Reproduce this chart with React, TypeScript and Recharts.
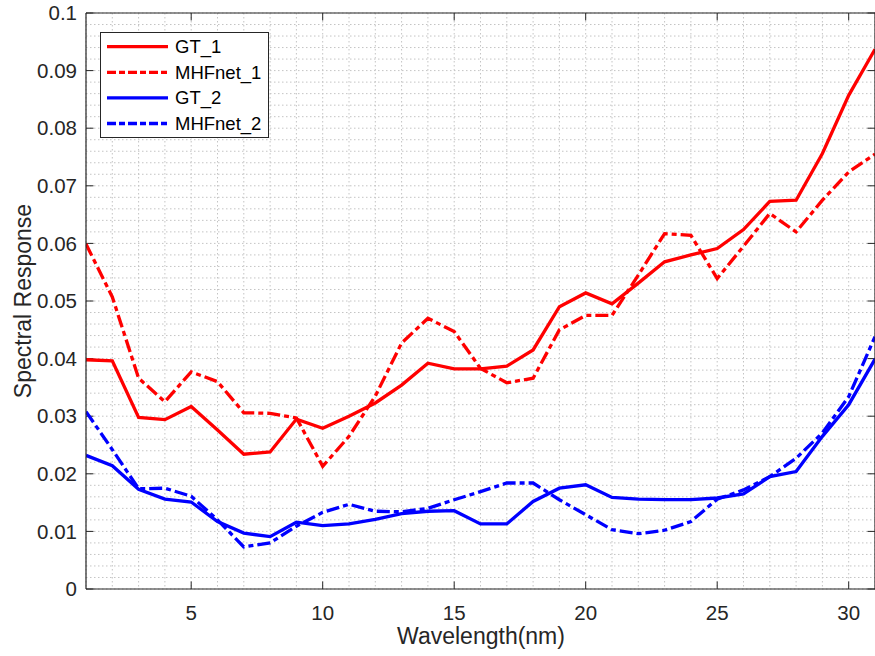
import React from 'react';
import { LineChart, Line, XAxis, YAxis, CartesianGrid, ReferenceLine, Label } from 'recharts';

const wavelengths = [1, 2, 3, 4, 5, 6, 7, 8, 9, 10, 11, 12, 13, 14, 15, 16, 17, 18, 19, 20, 21, 22, 23, 24, 25, 26, 27, 28, 29, 30, 31];

const gt1 = [0.0398, 0.0396, 0.0298, 0.0294, 0.0317, 0.0276, 0.0234, 0.0238, 0.0295, 0.0279, 0.0300, 0.0323, 0.0354, 0.0392, 0.0382, 0.0382, 0.0387, 0.0415, 0.0490, 0.0514, 0.0495, 0.0531, 0.0568, 0.0580, 0.0591, 0.0624, 0.0673, 0.0675, 0.0756, 0.0857, 0.0937];
const mhf1 = [0.0599, 0.0507, 0.0366, 0.0325, 0.0377, 0.0360, 0.0306, 0.0305, 0.0297, 0.0213, 0.0265, 0.0335, 0.0427, 0.0470, 0.0447, 0.0383, 0.0358, 0.0366, 0.0450, 0.0475, 0.0475, 0.0545, 0.0617, 0.0614, 0.0539, 0.0595, 0.0652, 0.0620, 0.0675, 0.0724, 0.0755];
const gt2 = [0.0232, 0.0214, 0.0173, 0.0156, 0.0151, 0.0117, 0.0097, 0.0091, 0.0116, 0.0110, 0.0113, 0.0121, 0.0131, 0.0135, 0.0136, 0.0113, 0.0113, 0.0152, 0.0175, 0.0181, 0.0159, 0.0156, 0.0155, 0.0155, 0.0158, 0.0165, 0.0195, 0.0204, 0.0265, 0.0320, 0.0399];
const mhf2 = [0.0308, 0.0242, 0.0174, 0.0175, 0.0161, 0.0120, 0.0073, 0.0080, 0.0109, 0.0133, 0.0147, 0.0135, 0.0134, 0.0140, 0.0155, 0.0169, 0.0184, 0.0184, 0.0155, 0.0129, 0.0103, 0.0096, 0.0102, 0.0117, 0.0156, 0.0172, 0.0195, 0.0227, 0.0271, 0.0334, 0.0438];

const xMajorTicks = [5, 10, 15, 20, 25, 30];
const yMajorTicks = [0, 0.01, 0.02, 0.03, 0.04, 0.05, 0.06, 0.07, 0.08, 0.09, 0.1];
const yMajorLabels = ['0', '0.01', '0.02', '0.03', '0.04', '0.05', '0.06', '0.07', '0.08', '0.09', '0.1'];
const yMinorTicks = Array.from({ length: 51 }, (_, i) => Math.round(i * 2) / 1000);

const X_MIN = 1;
const X_MAX = 31;
const Y_MIN = 0;
const Y_MAX = 0.1;

const series = [
  { key: 'gt1', name: 'GT_1', values: gt1, color: '#ff0000', dash: undefined as string | undefined },
  { key: 'mhf1', name: 'MHFnet_1', values: mhf1, color: '#ff0000', dash: '13 4 5 4' },
  { key: 'gt2', name: 'GT_2', values: gt2, color: '#0000ff', dash: undefined as string | undefined },
  { key: 'mhf2', name: 'MHFnet_2', values: mhf2, color: '#0000ff', dash: '13 4 5 4' },
];

const data = wavelengths.map((w, i) => {
  const row: Record<string, number> = { x: w };
  series.forEach((s) => {
    row[s.key] = s.values[i];
  });
  return row;
});

const FONT = '"Liberation Sans", Arial, Helvetica, sans-serif';
const AXIS_COLOR = '#262626';

const formatY = (v: number) => {
  const idx = yMajorTicks.findIndex((t) => Math.abs(t - v) < 1e-9);
  return idx >= 0 ? yMajorLabels[idx] : '';
};
const formatX = (v: number) => (xMajorTicks.includes(v) ? String(v) : '');

const XLabel = () => (
  <text x={481} y={644} textAnchor="middle" fontSize={23} fill={AXIS_COLOR} fontFamily={FONT}>
    Wavelength(nm)
  </text>
);

const YLabel = () => (
  <text x={31} y={301} textAnchor="middle" fontSize={23} fill={AXIS_COLOR} fontFamily={FONT} transform="rotate(-90 31 301)">
    Spectral Response
  </text>
);

const TICK_X = 0.285;
const TICK_Y = 0.0013;

const LegendBox = () => (
  <div
    style={{
      position: 'absolute',
      left: 100,
      top: 32,
      width: 167,
      height: 104,
      border: '1px solid #262626',
      background: '#ffffff',
    }}
  >
    <svg width={167} height={104} style={{ display: 'block' }}>
      {series.map((s, i) => {
        const cy = 13.7 + 25.6 * i;
        return (
          <g key={s.key}>
            <line x1={6} x2={67} y1={cy} y2={cy} stroke={s.color} strokeWidth={3.3} strokeDasharray={s.dash ? '9 3 6 3' : undefined} />
            <text x={74} y={cy + 6.5} fontSize={18.5} fontFamily={FONT} fill="#000000">
              {s.name}
            </text>
          </g>
        );
      })}
    </svg>
  </div>
);

export default function App() {
  return (
    <div style={{ position: 'absolute', left: 0, top: 0, width: 875, height: 656, overflow: 'hidden', background: '#ffffff' }}>
      <LineChart width={876} height={656} data={data} margin={{ top: 13, right: 1, bottom: 0, left: 0 }}>
        <CartesianGrid stroke="#c4c4c4" strokeDasharray="1.5 2.5" strokeWidth={1} />
        <XAxis
          dataKey="x"
          type="number"
          domain={[X_MIN, X_MAX]}
          ticks={wavelengths}
          interval={0}
          tickFormatter={formatX}
          height={67}
          tickLine={false}
          axisLine={false}
          tickSize={0}
          tickMargin={16}
          tick={{ fontSize: 20.5, fill: AXIS_COLOR, fontFamily: FONT }}
          allowDataOverflow
        >
          <Label content={XLabel} />
        </XAxis>
        <YAxis
          type="number"
          domain={[Y_MIN, Y_MAX]}
          ticks={yMinorTicks}
          interval={0}
          tickFormatter={formatY}
          width={86}
          tickLine={false}
          axisLine={false}
          tickSize={0}
          tickMargin={9}
          tick={{ fontSize: 20.5, fill: AXIS_COLOR, fontFamily: FONT }}
          allowDataOverflow
        >
          <Label content={YLabel} />
        </YAxis>
        {xMajorTicks.map((t) => (
          <ReferenceLine key={`xb${t}`} segment={[{ x: t, y: Y_MIN }, { x: t, y: Y_MIN + TICK_Y }]} stroke={AXIS_COLOR} strokeWidth={1} />
        ))}
        {xMajorTicks.map((t) => (
          <ReferenceLine key={`xt${t}`} segment={[{ x: t, y: Y_MAX }, { x: t, y: Y_MAX - TICK_Y }]} stroke={AXIS_COLOR} strokeWidth={1} />
        ))}
        {yMajorTicks.map((t) => (
          <ReferenceLine key={`yl${t}`} segment={[{ x: X_MIN, y: t }, { x: X_MIN + TICK_X, y: t }]} stroke={AXIS_COLOR} strokeWidth={1} />
        ))}
        {yMajorTicks.map((t) => (
          <ReferenceLine key={`yr${t}`} segment={[{ x: X_MAX, y: t }, { x: X_MAX - TICK_X, y: t }]} stroke={AXIS_COLOR} strokeWidth={1} />
        ))}
        {series.map((s) => (
          <Line
            key={s.key}
            type="linear"
            dataKey={s.key}
            name={s.name}
            stroke={s.color}
            strokeWidth={3.3}
            strokeDasharray={s.dash}
            dot={false}
            activeDot={false}
            isAnimationActive={false}
          />
        ))}
        <ReferenceLine x={X_MIN} stroke={AXIS_COLOR} strokeWidth={1.2} />
        <ReferenceLine x={X_MAX} stroke={AXIS_COLOR} strokeWidth={1.2} />
        <ReferenceLine y={Y_MIN} stroke={AXIS_COLOR} strokeWidth={1.2} />
        <ReferenceLine y={Y_MAX} stroke={AXIS_COLOR} strokeWidth={1.2} />
      </LineChart>
      <LegendBox />
    </div>
  );
}
